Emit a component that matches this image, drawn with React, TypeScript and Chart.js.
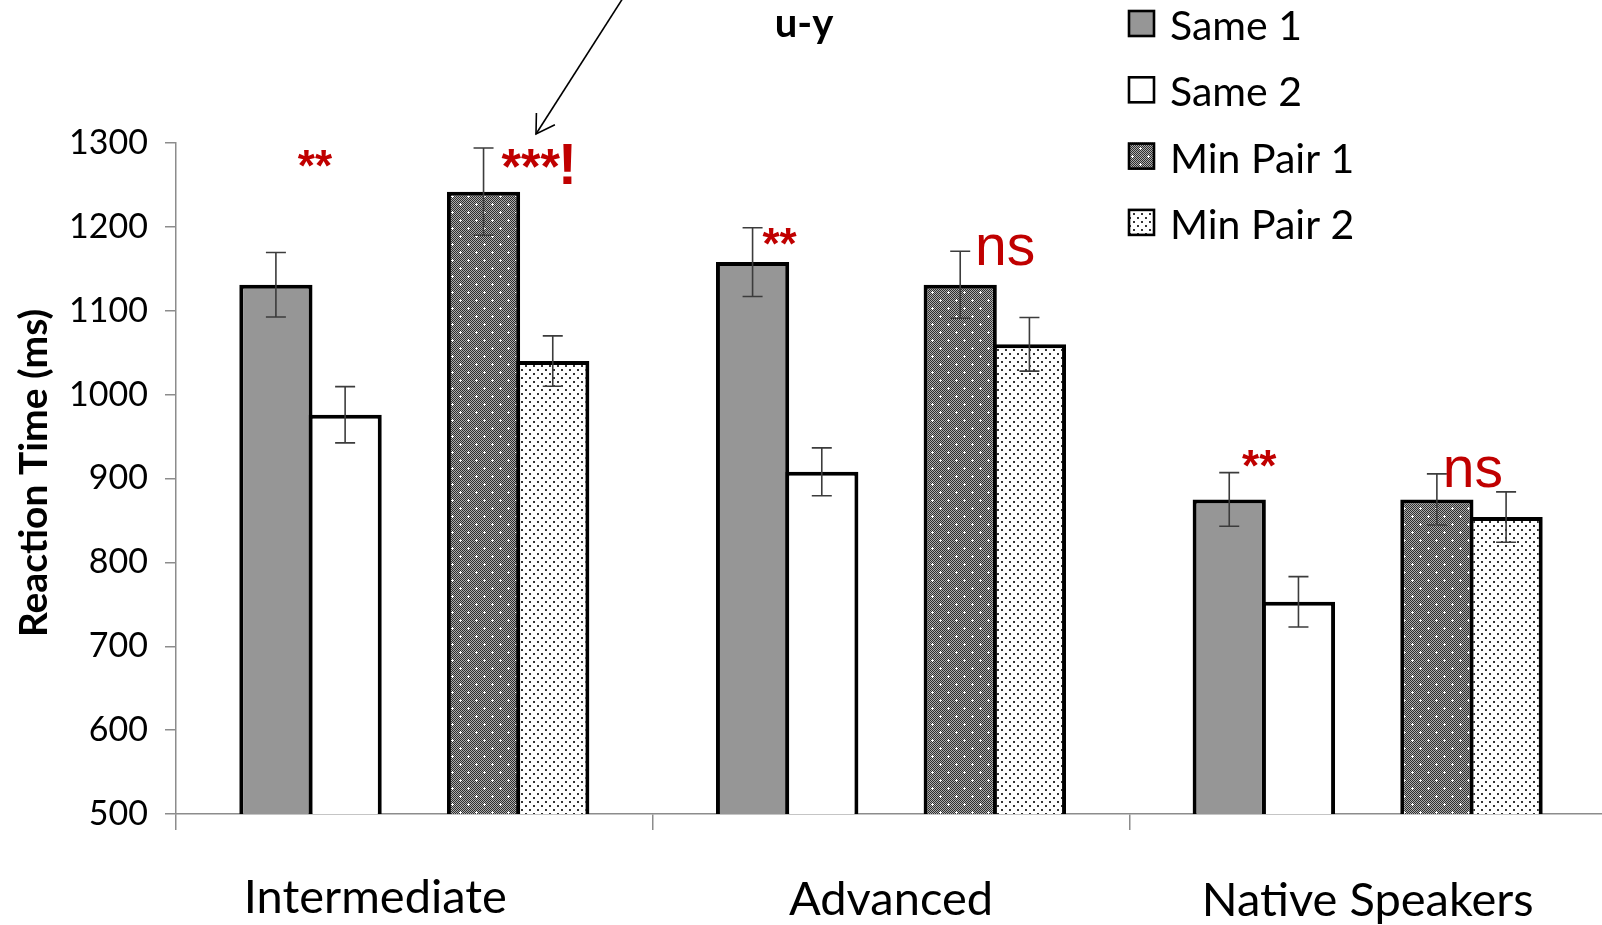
import React, { useEffect, useRef } from 'react';
import { Chart, registerables } from 'chart.js';

Chart.register(...registerables);

// ---------- data ----------
const categories = ['Intermediate', 'Advanced', 'Native Speakers'];
const seriesLabels = ['Same 1', 'Same 2', '', 'Min Pair 1', 'Min Pair 2'];
const same1 = [1131, 1158, 875];
const same2 = [976, 908, 753];
const spacer = [null, null, null];
const minPair1 = [1242, 1131, 875];
const minPair2 = [1040, 1060, 854];
const same1Err = [38.5, 41, 32];
const same2Err = [33.5, 28.5, 30];
const minPair1Err = [52, 40, 30.5];
const minPair2Err = [30, 32, 30];
const yTicks = [500, 600, 700, 800, 900, 1000, 1100, 1200, 1300];
const titleText = 'u-y';
const yAxisTitle = 'Reaction Time (ms)';
const annotationTexts = ['**', '***', '**', 'ns', '**', 'ns'];

// ---------- styling / placement (not data) ----------
const W = 1606;
const H = 925;
const RED = '#C00000';
// annotation anchors: dataset index, category index, pixel offsets from error-bar top
const annotationStyle = [
  { ds: 0, idx: 0, dx: 39, dy: -71, size: 44, weight: 'bold', align: 'center' },
  { ds: 3, idx: 0, dx: 18, dy: 36, size: 50, weight: 'bold', align: 'left', bang: true },
  { ds: 0, idx: 1, dx: 27, dy: 31, size: 44, weight: 'bold', align: 'center' },
  { ds: 3, idx: 1, dx: 45, dy: 14, size: 57, weight: 'normal', align: 'center' },
  { ds: 0, idx: 2, dx: 30, dy: 8, size: 44, weight: 'bold', align: 'center' },
  { ds: 3, idx: 2, dx: 36, dy: 13, size: 57, weight: 'normal', align: 'center' },
];
const labelDx = [-39, 0, 0];
const labelBaseline = [913, 915, 916];

function makeCheckerPattern(): CanvasPattern | string {
  const c = document.createElement('canvas');
  c.width = 16;
  c.height = 16;
  const g = c.getContext('2d');
  if (!g) return '#666';
  for (let y = 0; y < 16; y++) {
    for (let x = 0; x < 16; x++) {
      g.fillStyle = (x + y) % 2 === 0 ? '#2e2e2e' : '#ababab';
      g.fillRect(x, y, 1, 1);
    }
  }
  g.fillStyle = '#ffffff';
  const plus = (cx: number, cy: number) => {
    g.fillRect(cx - 1, cy, 3, 1);
    g.fillRect(cx, cy - 1, 1, 3);
  };
  plus(4, 4);
  plus(12, 12);
  return g.createPattern(c, 'repeat') || '#666';
}

function makeDotPattern(): CanvasPattern | string {
  const c = document.createElement('canvas');
  c.width = 8;
  c.height = 8;
  const g = c.getContext('2d');
  if (!g) return '#eee';
  g.fillStyle = '#ffffff';
  g.fillRect(0, 0, 8, 8);
  g.fillStyle = '#333333';
  g.fillRect(1, 1, 2, 2);
  g.fillRect(5, 5, 2, 2);
  return g.createPattern(c, 'repeat') || '#eee';
}

const errorArrays = [same1Err, same2Err, null, minPair1Err, minPair2Err];

const overlayPlugin = {
  id: 'overlay',
  afterDatasetsDraw(chart: any) {
    const ctx = chart.ctx;
    const yScale = chart.scales.y;
    ctx.save();
    ctx.strokeStyle = '#3c3c3c';
    ctx.lineWidth = 1.6;
    chart.data.datasets.forEach((ds: any, di: number) => {
      const errs = errorArrays[di];
      if (!errs) return;
      const meta = chart.getDatasetMeta(di);
      meta.data.forEach((bar: any, i: number) => {
        const v = ds.data[i];
        if (v == null) return;
        const x = bar.x;
        const yt = yScale.getPixelForValue(v + errs[i]);
        const yb = yScale.getPixelForValue(v - errs[i]);
        ctx.beginPath();
        ctx.moveTo(x, yt);
        ctx.lineTo(x, yb);
        ctx.moveTo(x - 10, yt);
        ctx.lineTo(x + 10, yt);
        ctx.moveTo(x - 10, yb);
        ctx.lineTo(x + 10, yb);
        ctx.stroke();
      });
    });
    ctx.restore();
  },
  afterDraw(chart: any) {
    const ctx = chart.ctx;
    const xScale = chart.scales.x;
    const yScale = chart.scales.y;
    ctx.save();

    // significance annotations
    annotationTexts.forEach((txt, k) => {
      const st = annotationStyle[k];
      const meta = chart.getDatasetMeta(st.ds);
      const bar = meta.data[st.idx];
      const v = chart.data.datasets[st.ds].data[st.idx];
      const errs = errorArrays[st.ds] as number[];
      const top = yScale.getPixelForValue(v + errs[st.idx]);
      const x = bar.x + st.dx;
      const y = top + st.dy;
      ctx.fillStyle = RED;
      ctx.textBaseline = 'alphabetic';
      ctx.textAlign = st.align;
      ctx.font = `${st.weight} ${st.size}px "Liberation Sans", Arial, sans-serif`;
      ctx.fillText(txt, x, y);
      if (st.bang) {
        const w = ctx.measureText(txt).width;
        ctx.textAlign = 'left';
        ctx.font = `bold 57px "Liberation Sans", Arial, sans-serif`;
        ctx.fillText('!', x + w - 2, y);
      }
    });

    // category labels
    ctx.fillStyle = '#000';
    ctx.textAlign = 'center';
    ctx.textBaseline = 'alphabetic';
    ctx.font = '47px Lato, sans-serif';
    categories.forEach((c, i) => {
      ctx.fillText(c, xScale.getPixelForValue(i) + labelDx[i], labelBaseline[i]);
    });

    // y axis title
    ctx.save();
    ctx.translate(34, 473);
    ctx.rotate(-Math.PI / 2);
    ctx.textAlign = 'center';
    ctx.textBaseline = 'middle';
    ctx.font = 'bold 39px Lato, sans-serif';
    ctx.fillText(yAxisTitle, 0, 0);
    ctx.restore();

    // title
    ctx.textAlign = 'center';
    ctx.textBaseline = 'alphabetic';
    ctx.font = 'bold 40px Lato, sans-serif';
    ctx.fillText(titleText, 804, 37);

    // arrow
    const x0 = 623, y0 = -2, x1 = 536, y1 = 134;
    ctx.strokeStyle = '#000';
    ctx.lineWidth = 1.6;
    ctx.beginPath();
    ctx.moveTo(x0, y0);
    ctx.lineTo(x1, y1);
    ctx.stroke();
    const ang = Math.atan2(y0 - y1, x0 - x1);
    const len = 21;
    ctx.beginPath();
    ctx.moveTo(x1 + len * Math.cos(ang - 0.55), y1 + len * Math.sin(ang - 0.55));
    ctx.lineTo(x1, y1);
    ctx.lineTo(x1 + len * Math.cos(ang + 0.55), y1 + len * Math.sin(ang + 0.55));
    ctx.stroke();

    // legend
    const entries = chart.data.datasets.filter((d: any) => d.label);
    entries.forEach((ds: any, i: number) => {
      const top = 10 + i * 66.3;
      ctx.fillStyle = ds.backgroundColor;
      ctx.fillRect(1128, top, 27, 27);
      ctx.lineWidth = 2.6;
      ctx.strokeStyle = '#000';
      ctx.strokeRect(1129, top + 1, 25, 25);
      ctx.fillStyle = '#000';
      ctx.font = '41px Lato, sans-serif';
      ctx.textAlign = 'left';
      ctx.textBaseline = 'alphabetic';
      ctx.fillText(ds.label, 1170, top + 30);
    });

    ctx.restore();
  },
};

export default function App() {
  const canvasRef = useRef<HTMLCanvasElement | null>(null);

  useEffect(() => {
    const canvas = canvasRef.current;
    if (!canvas) return;
    const checker = makeCheckerPattern();
    const dots = makeDotPattern();
    const base = {
      borderColor: '#000',
      borderWidth: 4,
      borderSkipped: false,
      categoryPercentage: 0.726,
      barPercentage: 1.058,
    };
    const chart = new Chart(canvas, {
      type: 'bar',
      data: {
        labels: categories,
        datasets: [
          { ...base, label: seriesLabels[0], data: same1, backgroundColor: '#969696' },
          { ...base, label: seriesLabels[1], data: same2, backgroundColor: '#ffffff' },
          { ...base, label: seriesLabels[2], data: spacer, backgroundColor: 'rgba(0,0,0,0)', borderWidth: 0 },
          { ...base, label: seriesLabels[3], data: minPair1, backgroundColor: checker },
          { ...base, label: seriesLabels[4], data: minPair2, backgroundColor: dots },
        ] as any,
      },
      options: {
        responsive: false,
        animation: false,
        events: [],
        layout: { padding: { top: 143, left: 0, right: 0, bottom: 0 } },
        plugins: {
          legend: { display: false },
          title: { display: false },
          tooltip: { enabled: false },
        },
        scales: {
          x: {
            type: 'category',
            offset: true,
            grid: {
              display: true,
              offset: true,
              drawOnChartArea: false,
              drawTicks: true,
              tickLength: 16,
              color: '#8c8c8c',
              lineWidth: 1.5,
            },
            border: { display: true, color: '#8c8c8c', width: 1.5 },
            ticks: { display: false },
            afterFit(s: any) {
              s.height = H - 814;
            },
          },
          y: {
            min: 500,
            max: 1300,
            afterBuildTicks(s: any) {
              s.ticks = yTicks.map((v) => ({ value: v }));
            },
            ticks: {
              font: { family: 'Lato', size: 34 },
              color: '#000',
              padding: 17,
              callback: (v: any) => String(v),
            },
            grid: {
              drawOnChartArea: false,
              drawTicks: true,
              tickLength: 11,
              color: '#8c8c8c',
              lineWidth: 1.5,
            },
            border: { display: true, color: '#8c8c8c', width: 1.5 },
            afterFit(s: any) {
              s.width = 176;
            },
          },
        },
      } as any,
      plugins: [overlayPlugin],
    });
    return () => chart.destroy();
  }, []);

  return (
    <div style={{ position: 'fixed', left: 0, top: 0, width: W, height: H, background: '#fff' }}>
      <canvas ref={canvasRef} width={W} height={H} style={{ display: 'block', width: W, height: H }} />
    </div>
  );
}
